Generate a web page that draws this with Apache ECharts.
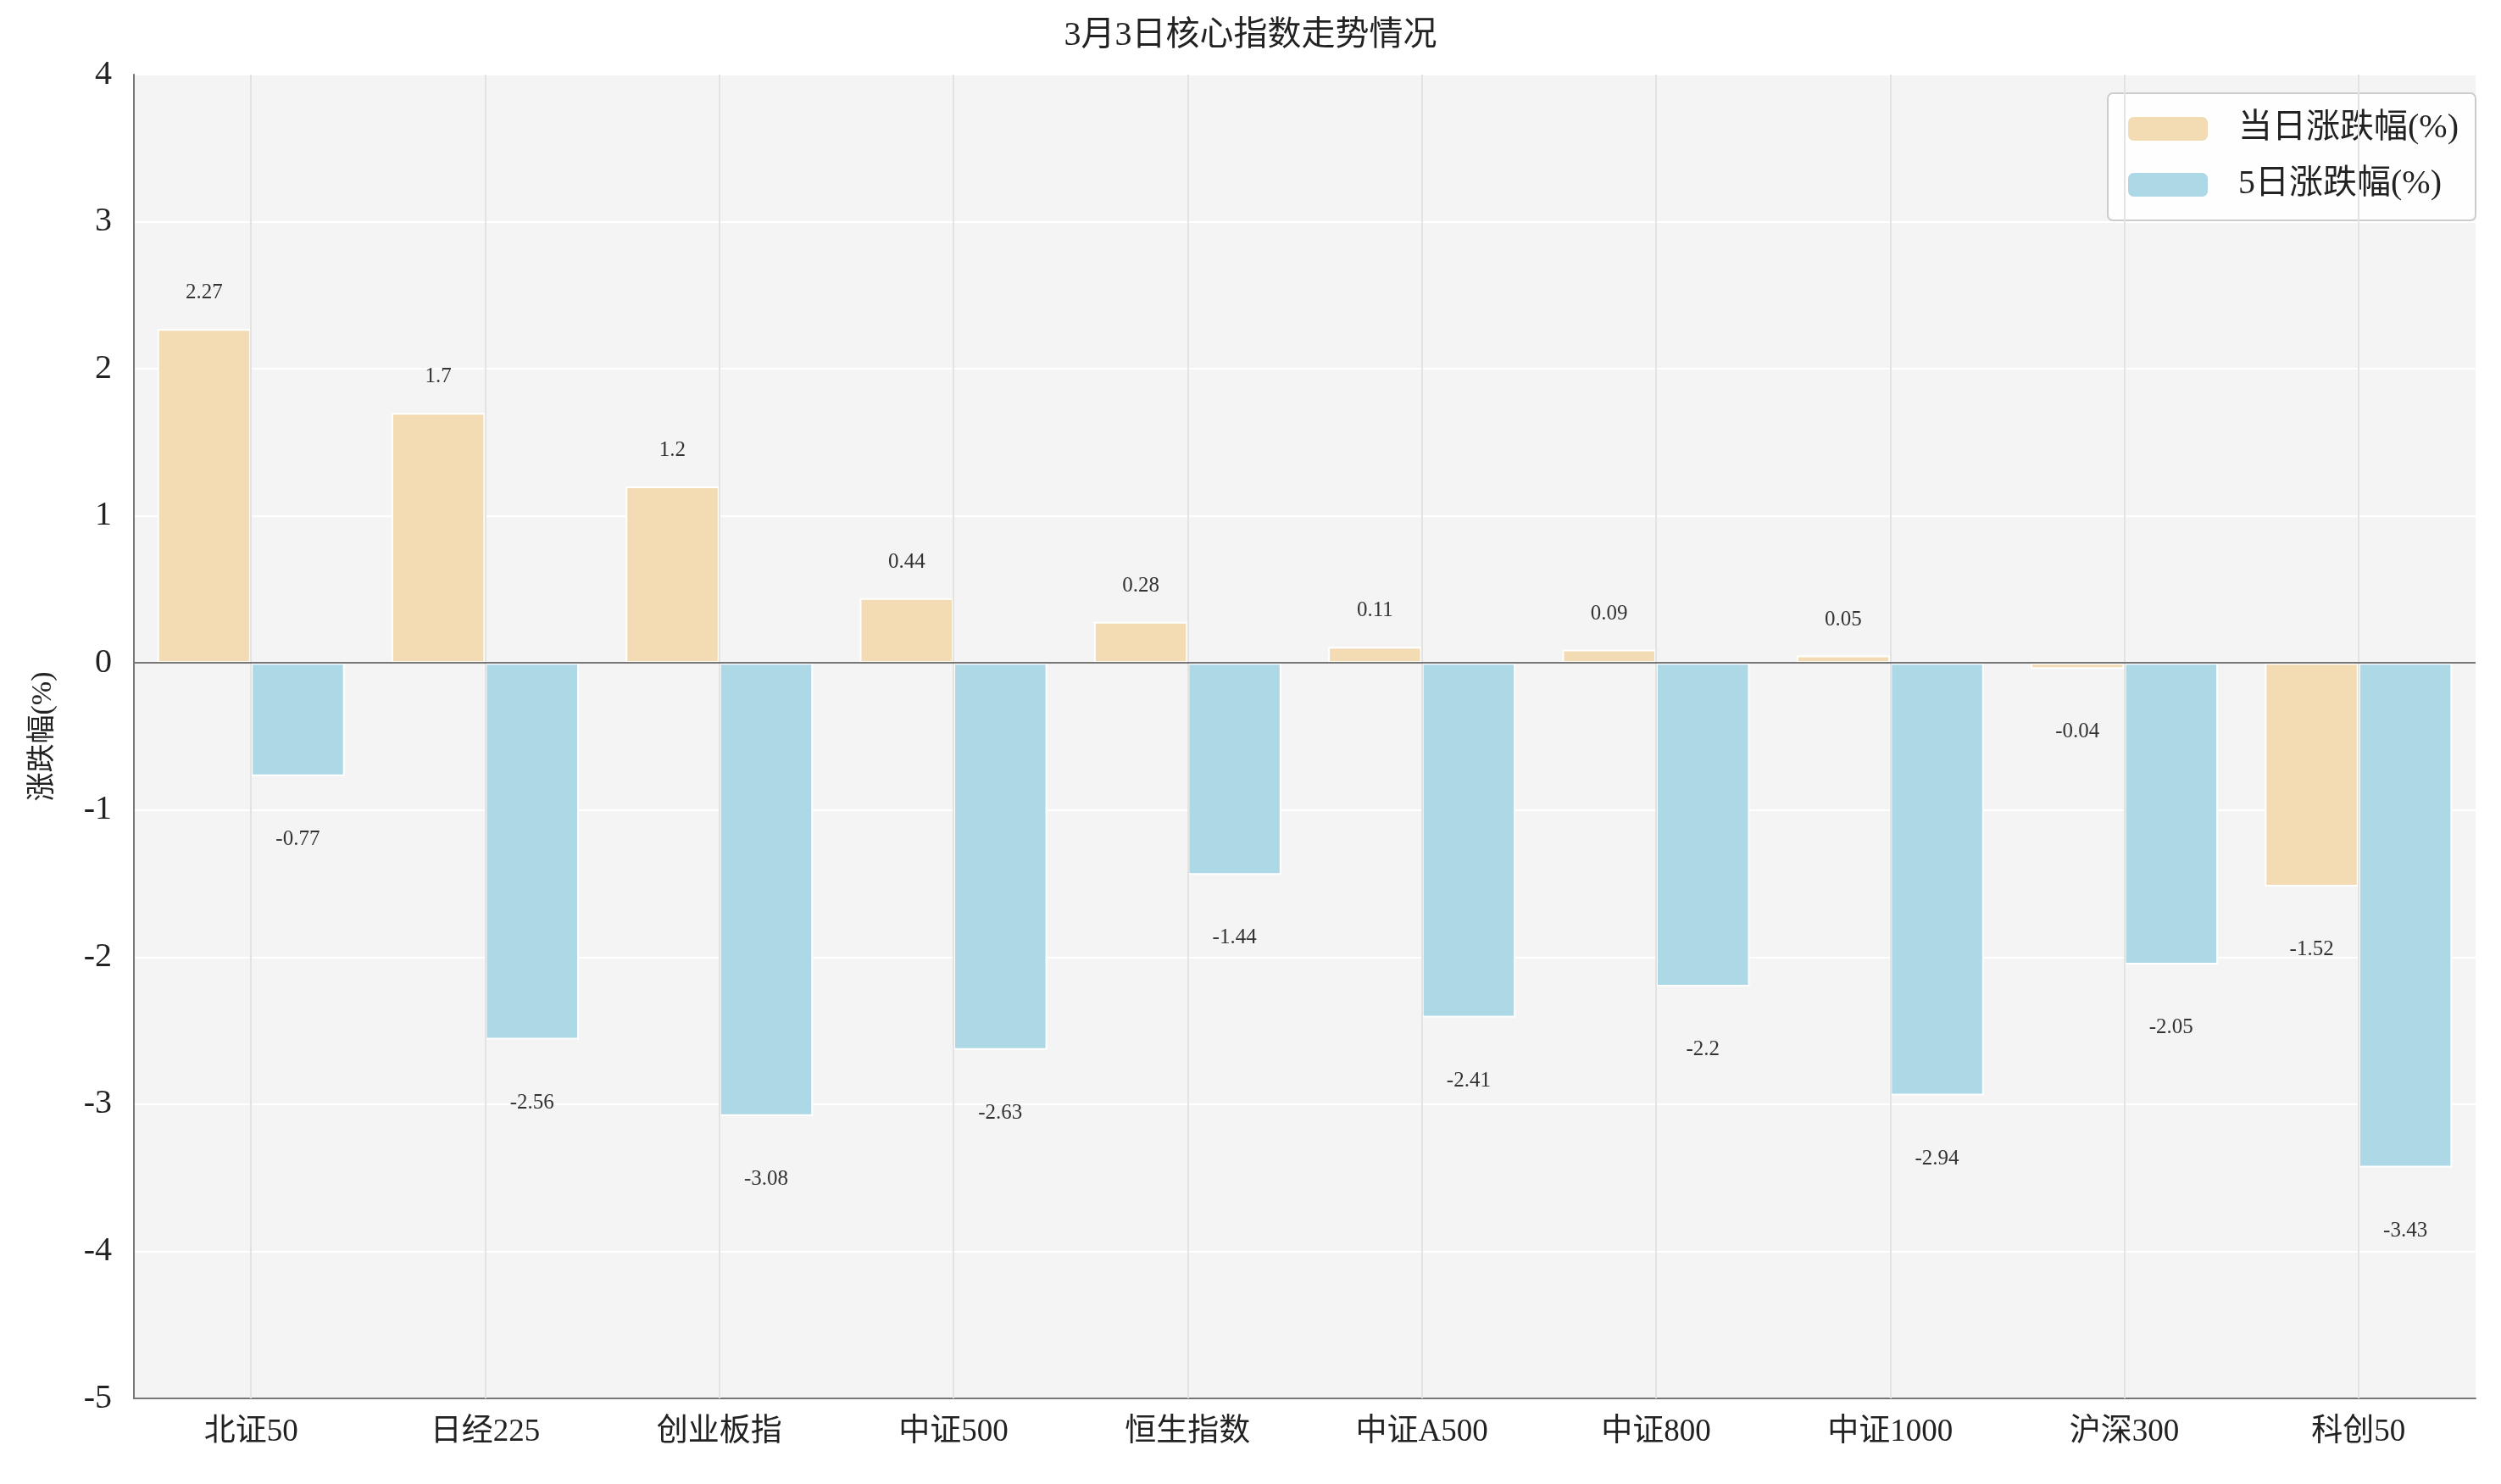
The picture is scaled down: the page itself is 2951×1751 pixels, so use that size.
<!DOCTYPE html>
<html>
<head>
<meta charset="utf-8">
<script src="https://cdn.jsdelivr.net/npm/echarts@6/dist/echarts.min.js"></script>
<style>html,body{margin:0;padding:0;background:#fff}#chart{width:2951px;height:1751px}</style>
</head>
<body>
<div id="chart"></div>
<script>
// index names and the two change series (%)
const categories = ['北证50', '日经225', '创业板指', '中证500', '恒生指数', '中证A500', '中证800', '中证1000', '沪深300', '科创50'];
const dayChange = [2.27, 1.7, 1.2, 0.44, 0.28, 0.11, 0.09, 0.05, -0.04, -1.52];
const fiveDayChange = [-0.77, -2.56, -3.08, -2.63, -1.44, -2.41, -2.2, -2.94, -2.05, -3.43];
const yTicks = [-5, -4, -3, -2, -1, 0, 1, 2, 3, 4];

const FONT = "'Liberation Serif', 'DejaVu Serif', 'Noto Sans CJK SC', serif";
const YELLOW = '#f3dcb3';
const BLUE = '#add8e6';

function withLabels(values) {
    return values.map(v => ({
        value: v,
        label: {
            position: v >= 0 ? 'top' : 'bottom',
            distance: v >= 0 ? 30 : 62
        }
    }));
}

const barLabel = { show: true, fontFamily: FONT, fontSize: 25, color: '#333' };

const chart = echarts.init(document.getElementById('chart'));
chart.setOption({
    backgroundColor: '#fff',
    title: {
        text: '3月3日核心指数走势情况',
        left: 'center',
        top: 18,
        textStyle: { fontFamily: FONT, fontSize: 40, fontWeight: 'normal', color: '#222' }
    },
    legend: {
        right: 30,
        top: 110,
        orient: 'vertical',
        data: ['当日涨跌幅(%)', '5日涨跌幅(%)'],
        itemWidth: 96,
        itemHeight: 30,
        itemGap: 26,
        padding: [22, 20, 22, 22],
        borderColor: '#ccc',
        borderWidth: 2,
        borderRadius: 6,
        backgroundColor: 'rgba(255,255,255,0.85)',
        textStyle: { fontFamily: FONT, fontSize: 40, color: '#222', padding: [0, 0, 0, 30] }
    },
    grid: {
        left: 158, right: 30, top: 88, bottom: 101,
        show: true, backgroundColor: '#f4f4f4', borderWidth: 0
    },
    xAxis: {
        type: 'category',
        data: categories,
        axisLine: { onZero: false, lineStyle: { color: '#777', width: 2 } },
        axisTick: { show: false },
        axisLabel: { fontFamily: FONT, fontSize: 37, color: '#222', margin: 22 },
        splitLine: { show: false }
    },
    yAxis: {
        type: 'value',
        min: yTicks[0],
        max: yTicks[yTicks.length - 1],
        interval: 1,
        name: '涨跌幅(%)',
        nameLocation: 'middle',
        nameRotate: 90,
        nameGap: 90,
        nameTextStyle: { fontFamily: FONT, fontSize: 34, color: '#222' },
        axisLine: { show: true, lineStyle: { color: '#777', width: 2 } },
        axisTick: { show: false },
        axisLabel: { fontFamily: FONT, fontSize: 40, color: '#222', margin: 26 },
        splitLine: { lineStyle: { color: '#ffffff', width: 2 } }
    },
    series: [
        {
            // vertical guides at category centres and the zero line
            type: 'line',
            data: [],
            silent: true,
            z: 0,
            markLine: {
                silent: true,
                symbol: 'none',
                label: { show: false },
                data: categories.map(c => ({ xAxis: c, lineStyle: { color: '#e3e3e3', width: 2, type: 'solid' } }))
                    .concat([{ yAxis: 0, lineStyle: { color: '#777', width: 2, type: 'solid' } }])
            }
        },
        {
            name: '当日涨跌幅(%)',
            type: 'bar',
            barWidth: '40%',
            barGap: '0%',
            data: withLabels(dayChange),
            itemStyle: { color: YELLOW, borderColor: '#fff', borderWidth: 2 },
            label: barLabel
        },
        {
            name: '5日涨跌幅(%)',
            type: 'bar',
            barWidth: '40%',
            data: withLabels(fiveDayChange),
            itemStyle: { color: BLUE, borderColor: '#fff', borderWidth: 2 },
            label: barLabel
        }
    ]
});
</script>
</body>
</html>
